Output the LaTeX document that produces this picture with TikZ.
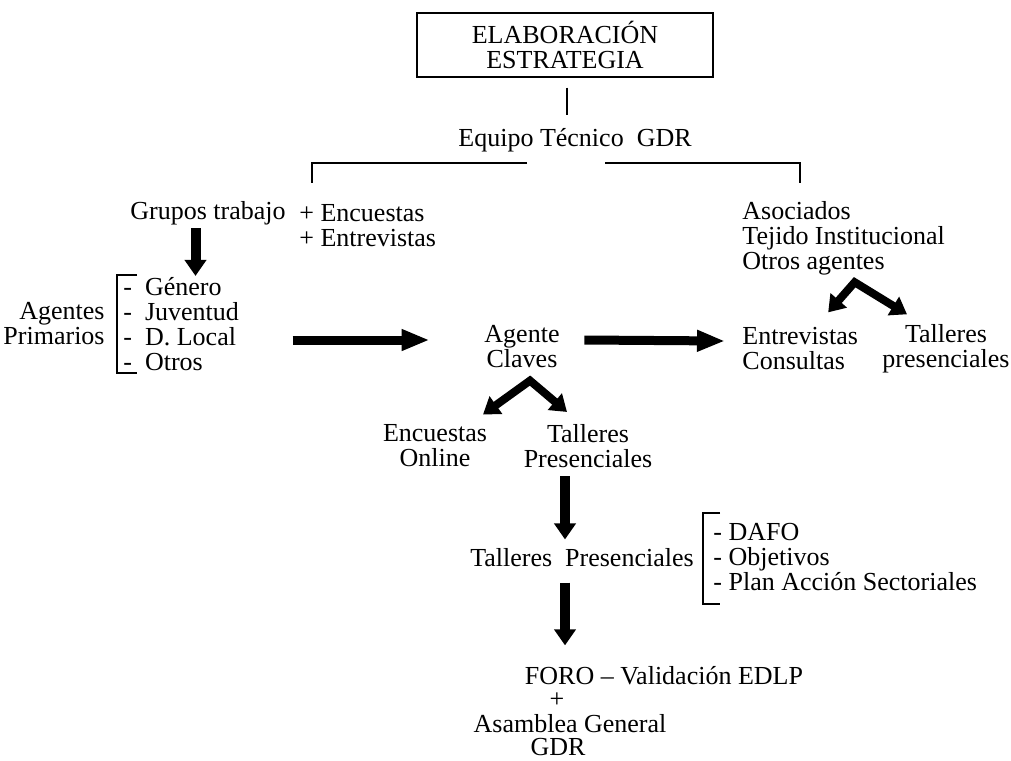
\documentclass[tikz,border=0pt]{standalone}
\usepackage{fontspec}
\setmainfont{Liberation Serif}
\usepackage{tikz}
\usetikzlibrary{calc,arrows.meta}

\begin{document}
\begin{tikzpicture}[x=0.5pt,y=-0.5pt,
    every node/.style={font=\fontsize{13}{12.5}\selectfont,inner sep=1pt,align=center},
    pie/.style={inner sep=0pt},
    linea/.style={line width=1pt},
    corchete/.style={line width=1.2pt},
    flecha/.style={line width=5pt,-{Triangle[length=8pt,width=10.5pt]}},
    flechah/.style={line width=4.5pt,-{Triangle[length=14pt,width=10pt]}},
    doble/.style={line width=4pt,line join=miter,{Triangle[length=8pt,width=10.5pt]}-{Triangle[length=8pt,width=10.5pt]}}]
    \useasboundingbox (0,0) rectangle (1011,760);
    \node [draw,line width=1pt,minimum width=148pt,minimum height=32pt] (1) at (565,44.5) {
      ELABORACIÓN\\ESTRATEGIA
    };
    \node (2) at (575,140) {Equipo Técnico\ \ GDR};
    \node (3) at (208,213) {Grupos trabajo};
    \node [anchor=west,align=left] (4) at (297,225.5) {+ Encuestas\\+ Entrevistas};
    \node [anchor=west,align=left] (5) at (740,238) {
      Asociados\\Tejido Institucional\\Otros agentes
    };
    \node [anchor=west,align=left] (6) at (121,324) {
      -\enspace Género\\-\enspace Juventud\\-\enspace D. Local\\-\enspace Otros
    };
    \node [anchor=east,align=right] (7) at (107,324) {Agentes\\Primarios};
    \node (8) at (522,347) {Agente\\Claves};
    \node [anchor=west,align=left] (9) at (740,349) {Entrevistas\\Consultas};
    \node (10) at (946,349) {Talleres\\presenciales};
    \node (11) at (435,446) {Encuestas\\Online};
    \node (12) at (588,446) {Talleres\\Presenciales};
    \node (13) at (582,558) {Talleres\ \ Presenciales};
    \node [anchor=west,align=left] (14) at (711,557) {
      - DAFO\\- Objetivos\\- Plan Acción Sectoriales
    };
    \node [pie] (15) at (664,676) {FORO – Validación EDLP};
    \node [pie] (16) at (557,700) {+};
    \node [pie] (17) at (570,724) {Asamblea General};
    \node [pie] (18) at (558,747) {GDR};

    \draw [linea] ($(1.south)+(2,10)$) -- ($(1.south |- 2.north)+(2,-11)$);
    \draw [linea] ($(2.south)+(-48,9)$) -| ($(3.north)+(104,-16)$);
    \draw [linea] ($(2.south)+(30,9)$) -| ($(5.north)+(-43.5,-16)$);

    \draw [flecha] ($(3.south)+(-12.5,1)$) -- ($(3.south |- 6.north)+(-12.5,1)$);
    \draw [corchete] ($(6.north west)+(16,0)$) -| ($(6.south west)+(-4,0)$) -- ($(6.south west)+(16,0)$);
    \draw [flechah] ($(8.west)+(-189.5,-7)$) -- ($(8.west)+(-52.5,-7)$);
    \draw [flechah] ($(8.east)+(22.5,-7)$) -- ($(9.west)+(-15,-8)$);
    \draw [doble] ($(9.north)+(28,-13)$) -- ($(5.south)+(11,5)$) -- ($(10.north)+(-39,-8)$);
    \draw [doble] ($(11.north)+(48,-8)$) -- ($(8.south)+(8,10)$) -- ($(12.north)+(-21,-10)$);
    \draw [flecha] ($(12.south)+(-23,6)$) -- ($(12.south |- 13.north)+(-23,-7)$);
    \draw [corchete] ($(14.north west)+(9,-8)$) -| ($(14.south west)+(-8,11)$) -- ($(14.south west)+(9,11)$);
    \draw [flecha] ($(13.south)+(-17,13)$) -- ($(13.south |- 15.north)+(-17,-21)$);

  \end{tikzpicture}
\end{document}
